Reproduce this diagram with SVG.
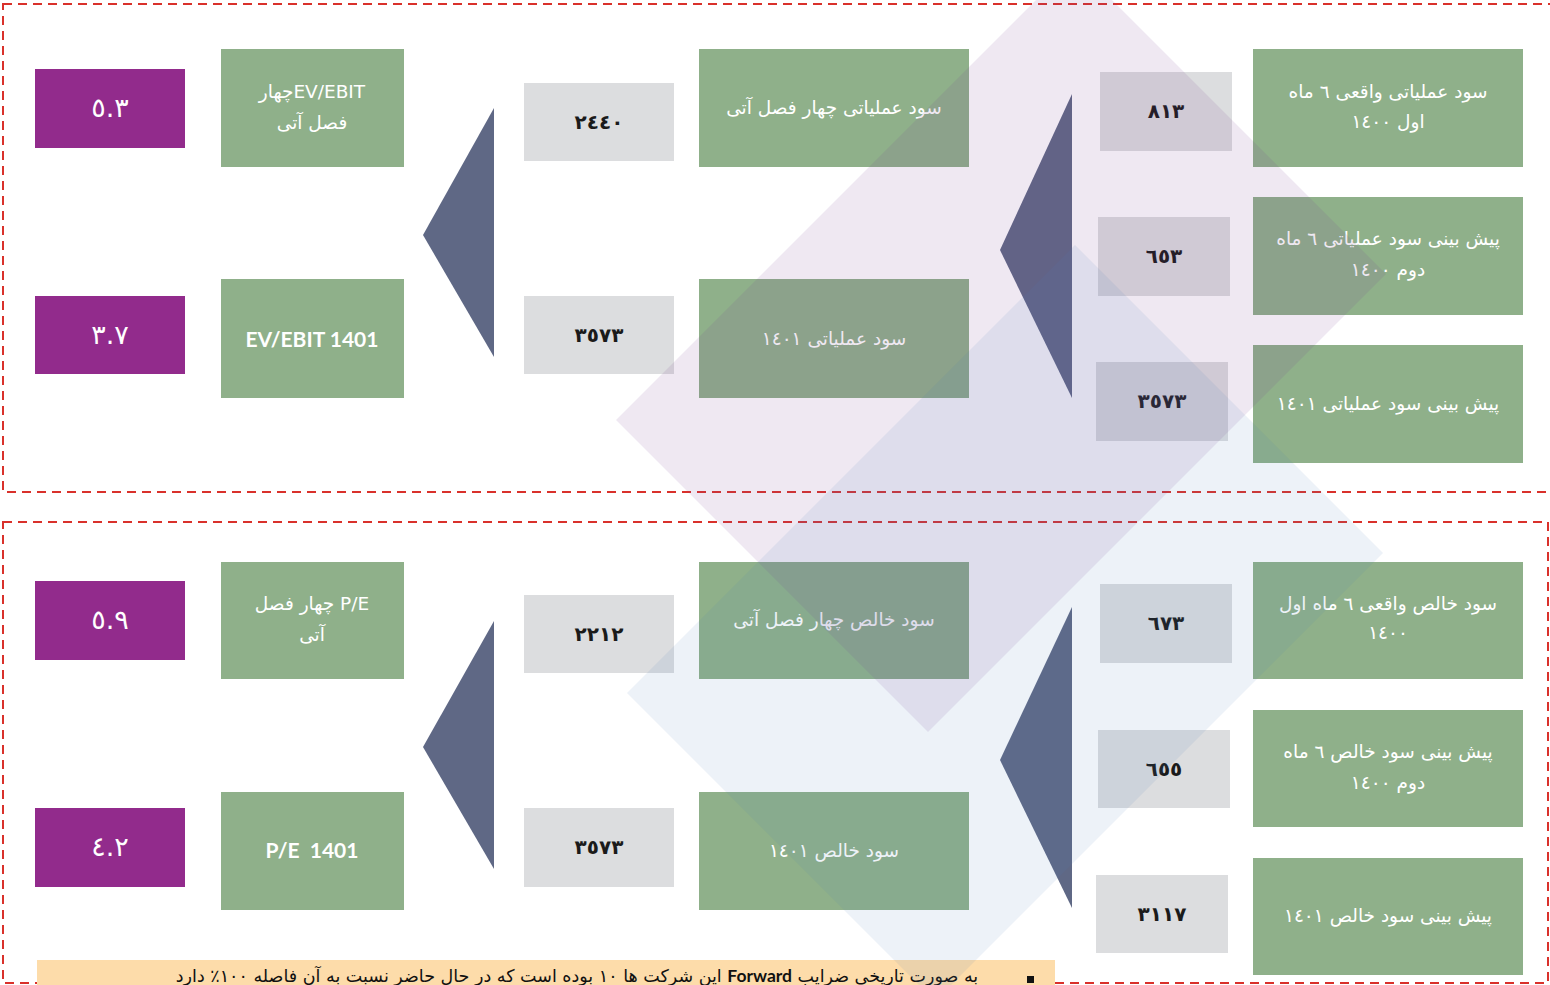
<svg xmlns="http://www.w3.org/2000/svg" width="1550" height="985" viewBox="0 0 1550 985">
<style>
.purple{fill:#922B8C}
.green{fill:#8FB08A}
.gray{fill:#DCDDDF}
.tri{fill:#5F6885}
.frame{fill:none;stroke:#D9312B;stroke-width:2;stroke-dasharray:9 6}
.ptxt{font-family:"DejaVu Sans",sans-serif;font-size:27px;fill:#ffffff;text-anchor:middle}
.gtxt{font-family:"DejaVu Sans",sans-serif;font-size:18.5px;fill:#ffffff;text-anchor:middle;direction:rtl}
.ltxt{font-family:Lato,"Open Sans",sans-serif;font-weight:bold;font-size:21px;fill:#ffffff;text-anchor:middle}
.ntxt{font-family:"DejaVu Sans",sans-serif;font-weight:bold;font-size:20px;fill:#1a1a1a;text-anchor:middle;direction:rtl}
.btxt{font-family:"DejaVu Sans",sans-serif;font-size:17.5px;fill:#111111;text-anchor:middle;direction:rtl}
.shape{pointer-events:none}
</style>
<rect width="1550" height="985" fill="#ffffff"/>
<g id="frames">
<rect class="frame" x="3" y="4" width="1570" height="488"/>
<rect class="frame" x="3" y="522" width="1545" height="461"/>
</g>
<g id="note">
<rect x="37" y="960" width="1018" height="30" fill="#FDDCAA"/>
<rect x="1027" y="976" width="7" height="7" fill="#111111"/>
<text class="btxt" x="577" y="982">به صورت تاریخی ضرایب <tspan font-family="Lato, 'Open Sans', sans-serif" font-weight="bold">Forward</tspan> این شرکت ها ١٠ بوده است که در حال حاضر نسبت به آن فاصله ١٠٠٪ دارد</text>
</g>
<g id="connectors">
<polygon class="tri" points="494,108 494,357 423,235"/>
<polygon class="tri" points="1072,94 1072,398 1000,250"/>
<polygon class="tri" points="494,621 494,869 423,747"/>
<polygon class="tri" points="1072,607 1072,908 1000,760"/>
</g>
<g id="r-evebit-ttm"><rect class="purple" x="35" y="69" width="150" height="79"/><text class="ptxt" x="110" y="117">٥.٣</text></g>
<g id="r-evebit-1401"><rect class="purple" x="35" y="296" width="150" height="78"/><text class="ptxt" x="110" y="344">٣.٧</text></g>
<g id="evebit-ttm"><rect class="green" x="221" y="49" width="183" height="118"/><text class="gtxt" x="312" y="98">EV/EBITچهار</text><text class="gtxt" x="312" y="129">فصل آتی</text></g>
<g id="evebit-1401"><rect class="green" x="221" y="279" width="183" height="119"/><text class="ltxt" x="312" y="347">EV/EBIT 1401</text></g>
<g id="v-op-ttm"><rect class="gray" x="524" y="83" width="150" height="78"/><text class="ntxt" x="599" y="129">٢٤٤٠</text></g>
<g id="v-op-1401"><rect class="gray" x="524" y="296" width="150" height="78"/><text class="ntxt" x="599" y="342">٣٥٧٣</text></g>
<g id="op-ttm"><rect class="green" x="699" y="49" width="270" height="118"/><text class="gtxt" x="834" y="114">سود عملیاتی چهار فصل آتی</text></g>
<g id="op-1401"><rect class="green" x="699" y="279" width="270" height="119"/><text class="gtxt" x="834" y="345">سود عملیاتی ١٤٠١</text></g>
<g id="v-op-h1"><rect class="gray" x="1100" y="72" width="132" height="79"/><text class="ntxt" x="1166" y="118">٨١٣</text></g>
<g id="v-op-h2"><rect class="gray" x="1098" y="217" width="132" height="79"/><text class="ntxt" x="1164" y="263">٦٥٣</text></g>
<g id="v-op-f1401"><rect class="gray" x="1096" y="362" width="132" height="79"/><text class="ntxt" x="1162" y="408">٣٥٧٣</text></g>
<g id="op-h1"><rect class="green" x="1253" y="49" width="270" height="118"/><text class="gtxt" x="1388" y="98">سود عملیاتی  واقعی ٦ ماه</text><text class="gtxt" x="1388" y="128">اول ١٤٠٠</text></g>
<g id="op-h2"><rect class="green" x="1253" y="197" width="270" height="118"/><text class="gtxt" x="1388" y="245">پیش بینی سود عملیاتی ٦ ماه</text><text class="gtxt" x="1388" y="276">دوم ١٤٠٠</text></g>
<g id="op-f1401"><rect class="green" x="1253" y="345" width="270" height="118"/><text class="gtxt" x="1388" y="410">پیش بینی سود عملیاتی ١٤٠١</text></g>
<g id="r-pe-ttm"><rect class="purple" x="35" y="581" width="150" height="79"/><text class="ptxt" x="110" y="629">٥.٩</text></g>
<g id="r-pe-1401"><rect class="purple" x="35" y="808" width="150" height="79"/><text class="ptxt" x="110" y="856">٤.٢</text></g>
<g id="pe-ttm"><rect class="green" x="221" y="562" width="183" height="117"/><text class="gtxt" x="312" y="610">P/E چهار فصل</text><text class="gtxt" x="312" y="641">آتی</text></g>
<g id="pe-1401"><rect class="green" x="221" y="792" width="183" height="118"/><text class="ltxt" x="312" y="858" xml:space="preserve">P/E  1401</text></g>
<g id="v-np-ttm"><rect class="gray" x="524" y="595" width="150" height="78"/><text class="ntxt" x="599" y="641">٢٢١٢</text></g>
<g id="v-np-1401"><rect class="gray" x="524" y="808" width="150" height="79"/><text class="ntxt" x="599" y="854">٣٥٧٣</text></g>
<g id="np-ttm"><rect class="green" x="699" y="562" width="270" height="117"/><text class="gtxt" x="834" y="626">سود خالص چهار فصل آتی</text></g>
<g id="np-1401"><rect class="green" x="699" y="792" width="270" height="118"/><text class="gtxt" x="834" y="857">سود خالص ١٤٠١</text></g>
<g id="v-np-h1"><rect class="gray" x="1100" y="584" width="132" height="79"/><text class="ntxt" x="1166" y="630">٦٧٣</text></g>
<g id="v-np-h2"><rect class="gray" x="1098" y="730" width="132" height="78"/><text class="ntxt" x="1164" y="776">٦٥٥</text></g>
<g id="v-np-f1401"><rect class="gray" x="1096" y="875" width="132" height="78"/><text class="ntxt" x="1162" y="921">٣١١٧</text></g>
<g id="np-h1"><rect class="green" x="1253" y="562" width="270" height="117"/><text class="gtxt" x="1388" y="610">سود خالص  واقعی ٦ ماه اول</text><text class="gtxt" x="1388" y="639">١٤٠٠</text></g>
<g id="np-h2"><rect class="green" x="1253" y="710" width="270" height="117"/><text class="gtxt" x="1388" y="758">پیش بینی سود خالص ٦ ماه</text><text class="gtxt" x="1388" y="789">دوم ١٤٠٠</text></g>
<g id="np-f1401"><rect class="green" x="1253" y="858" width="270" height="117"/><text class="gtxt" x="1388" y="922">پیش بینی سود خالص ١٤٠١</text></g>
<g id="background-shapes" class="shape">
<polygon points="1074,-38 1386,274 928,732 616,420" fill="#7F3F98" fill-opacity="0.12"/>
<polygon points="1075,245 1383,553 935,1001 627,693" fill="#4F81BD" fill-opacity="0.10"/>
</g>
</svg>
